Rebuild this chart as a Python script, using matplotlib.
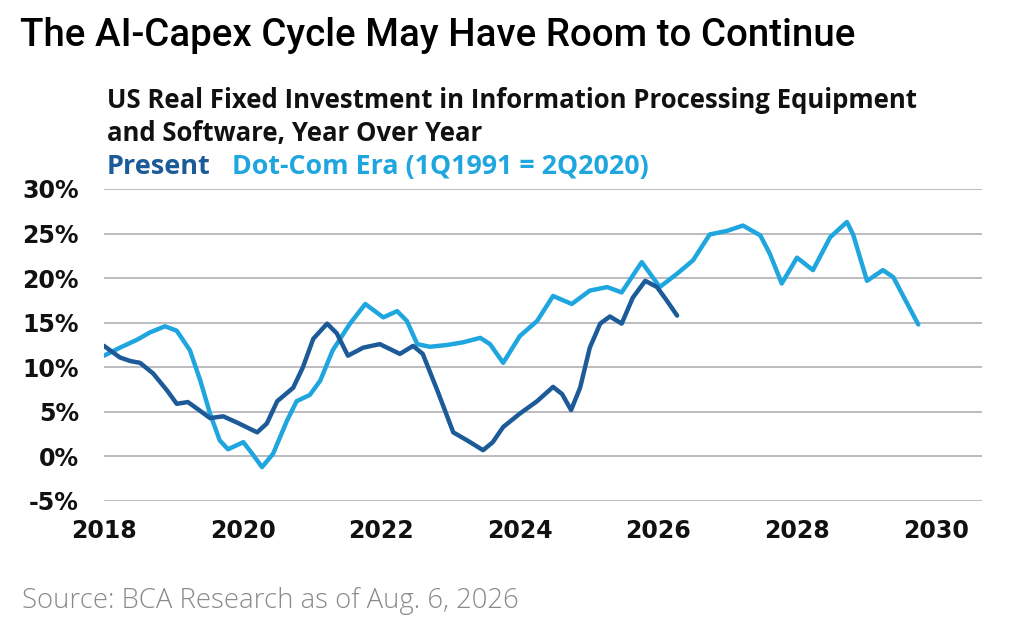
import matplotlib
matplotlib.use("Agg")
import matplotlib.pyplot as plt
from matplotlib.ticker import FuncFormatter

# decimal year, y/y % change
present_x = [2018.0, 2018.23, 2018.38, 2018.52, 2018.71, 2018.91, 2019.05, 2019.21, 2019.39,
             2019.53, 2019.72, 2019.92, 2020.21, 2020.35, 2020.50, 2020.73, 2020.87, 2021.02,
             2021.22, 2021.36, 2021.52, 2021.74, 2021.98, 2022.27, 2022.46, 2022.60, 2022.81,
             2023.04, 2023.24, 2023.47, 2023.61, 2023.76, 2024.00, 2024.25, 2024.48, 2024.61,
             2024.74, 2024.87, 2025.01, 2025.16, 2025.30, 2025.47, 2025.63, 2025.81, 2025.98,
             2026.12, 2026.27]
present_y = [12.4, 11.1, 10.7, 10.5, 9.3, 7.4, 5.9, 6.1, 5.1,
             4.3, 4.5, 3.8, 2.7, 3.7, 6.2, 7.7, 10.0, 13.2,
             14.9, 13.8, 11.3, 12.2, 12.6, 11.5, 12.4, 11.5, 7.4,
             2.7, 1.8, 0.7, 1.6, 3.3, 4.8, 6.2, 7.8, 7.0,
             5.2, 7.7, 12.2, 14.9, 15.7, 14.9, 17.8, 19.7, 19.0,
             17.5, 15.8]

dotcom_x = [2018.0, 2018.23, 2018.48, 2018.66, 2018.88, 2019.05, 2019.24, 2019.39, 2019.53,
            2019.67, 2019.79, 2020.01, 2020.14, 2020.28, 2020.44, 2020.64, 2020.78, 2020.97,
            2021.12, 2021.30, 2021.55, 2021.77, 2022.03, 2022.23, 2022.37, 2022.52, 2022.70,
            2022.95, 2023.18, 2023.43, 2023.57, 2023.76, 2024.00, 2024.25, 2024.48, 2024.75,
            2025.01, 2025.26, 2025.47, 2025.76, 2026.02, 2026.27, 2026.50, 2026.74, 2026.99,
            2027.22, 2027.47, 2027.61, 2027.78, 2028.00, 2028.23, 2028.48, 2028.72, 2028.81,
            2029.01, 2029.24, 2029.39, 2029.75]
dotcom_y = [11.3, 12.2, 13.1, 13.9, 14.6, 14.1, 11.9, 8.5, 4.8,
            1.8, 0.8, 1.6, 0.3, -1.2, 0.3, 4.0, 6.2, 6.9,
            8.5, 11.9, 14.9, 17.1, 15.6, 16.3, 15.2, 12.6, 12.3,
            12.5, 12.8, 13.3, 12.6, 10.5, 13.5, 15.2, 18.0, 17.1,
            18.6, 19.0, 18.4, 21.8, 19.0, 20.5, 22.0, 24.9, 25.3,
            25.9, 24.8, 22.7, 19.4, 22.3, 20.9, 24.6, 26.3, 24.9,
            19.7, 20.9, 20.1, 14.8]

year_ticks = [2018, 2020, 2022, 2024, 2026, 2028, 2030]
pct_ticks = [-5, 0, 5, 10, 15, 20, 25, 30]

dark_blue = "#1c5a98"
light_blue = "#20a6df"

plt.rcParams["font.family"] = ["Open Sans", "DejaVu Sans"]

fig = plt.figure(figsize=(10.24, 6.35), dpi=100)
ax = fig.add_axes([104/1024, 1 - 501/635, (982 - 104)/1024, (501 - 189)/635])

ax.plot(dotcom_x, dotcom_y, color=light_blue, lw=3.2, solid_capstyle="round",
        solid_joinstyle="round", zorder=3)
ax.plot(present_x, present_y, color=dark_blue, lw=3.2, solid_capstyle="round",
        solid_joinstyle="round", zorder=4)

ax.set_xlim(2018, 2018 + (982 - 104)/69.3)
ax.set_ylim(-5, 30)
ax.set_xticks(year_ticks)
ax.set_yticks(pct_ticks)
ax.yaxis.set_major_formatter(FuncFormatter(lambda v, p: f"{v:.0f}%"))
ax.grid(axis="y", color="#bcbcc0", lw=1.4, zorder=1)
ax.grid(axis="x", visible=False)
for s in ax.spines.values():
    s.set_visible(False)
ax.tick_params(length=0, colors="#111111")
ax.tick_params(axis="y", pad=18)
ax.tick_params(axis="x", pad=13)
for lab in ax.get_xticklabels() + ax.get_yticklabels():
    lab.set_fontweight("bold")
    lab.set_fontsize(17)
    lab.set_family("DejaVu Sans")

fig.text(20/1024, 1 - 46/635, "The AI-Capex Cycle May Have Room to Continue",
         fontsize=27.7, fontweight="medium", va="baseline", ha="left", color="black",
         family=["Roboto", "DejaVu Sans"])
fig.text(107/1024, 1 - 101/635, "US Real Fixed Investment in Information Processing Equipment",
         fontsize=18.5, fontweight="bold", va="center", ha="left", color="#111111")
fig.text(107/1024, 1 - 133/635, "and Software, Year Over Year",
         fontsize=18.5, fontweight="bold", va="center", ha="left", color="#111111")
fig.text(107/1024, 1 - 167/635, "Present", fontsize=19.5, fontweight="bold",
         va="center", ha="left", color=dark_blue)
fig.text(232/1024, 1 - 167/635, "Dot-Com Era (1Q1991 = 2Q2020)", fontsize=19.3,
         fontweight="bold", va="center", ha="left", color=light_blue)
fig.text(22/1024, 1 - 601/635, "Source: BCA Research as of Aug. 6, 2026", fontsize=19.8,
         fontweight="light", va="center", ha="left", color="#8a8a8a")

fig.savefig("out.png", dpi=100, facecolor="white")
